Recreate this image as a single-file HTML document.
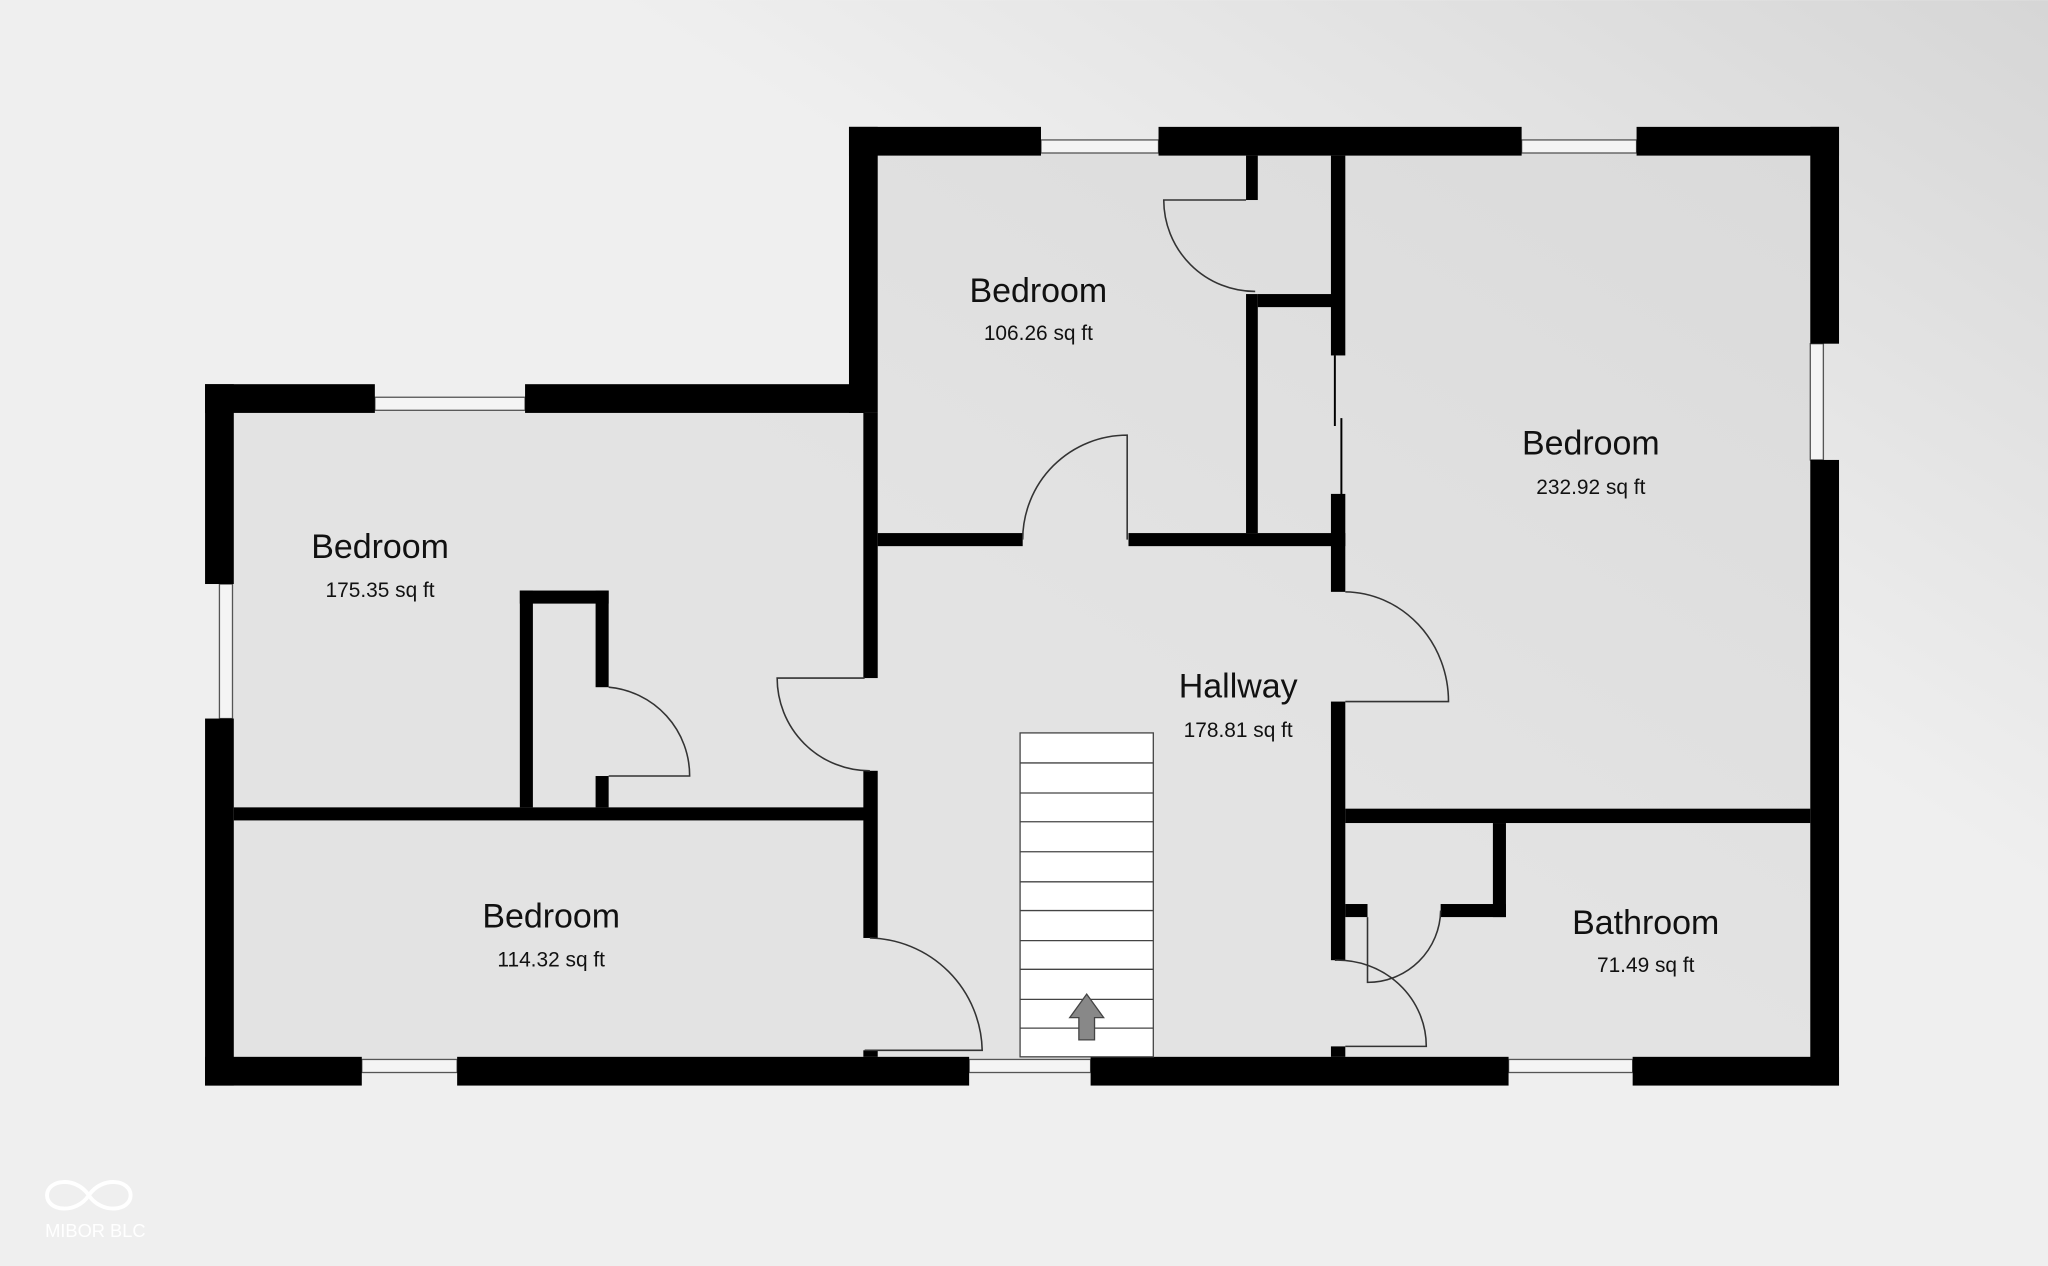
<!DOCTYPE html>
<html><head><meta charset="utf-8"><style>
html,body{margin:0;padding:0;width:2048px;height:1266px;overflow:hidden;background:#efefef}
svg{display:block}
text{font-family:"Liberation Sans",sans-serif;fill:#111;text-anchor:middle}
.t{font-size:26px}.s{font-size:16px}
.d{fill:none;stroke:#333;stroke-width:1.2}
.w{fill:#f4f4f4;stroke:#555;stroke-width:1}
</style></head><body>
<svg width="2048" height="1266" viewBox="0 0 1568 969" xmlns="http://www.w3.org/2000/svg">
<defs><linearGradient id="bg" x1="0" y1="1" x2="1" y2="0"><stop offset="0.65" stop-color="#efefef"/><stop offset="1" stop-color="#d6d6d6"/></linearGradient>
<linearGradient id="fl" x1="0" y1="1" x2="1" y2="0"><stop offset="0.5" stop-color="#e3e3e3"/><stop offset="1" stop-color="#dadada"/></linearGradient></defs>
<rect width="1568" height="969" fill="url(#bg)"/>
<polygon points="168,305 660,305 660,108 1397,108 1397,820 168,820" fill="url(#fl)"/>
<g class="w">
<rect x="287" y="304" width="115" height="10"/><rect x="797" y="107" width="90" height="10"/><rect x="1165" y="107" width="88" height="10"/>
<rect x="1386" y="263" width="10" height="89"/><rect x="168" y="447" width="10" height="103"/>
<rect x="277" y="811" width="73" height="10"/><rect x="742" y="811" width="93" height="10"/><rect x="1155" y="811" width="95" height="10"/>
</g>
<g fill="#000">
<rect x="157" y="294" width="130" height="22"/><rect x="402" y="294" width="260" height="22"/>
<rect x="157" y="294" width="22" height="153"/><rect x="157" y="550" width="22" height="281"/>
<rect x="650" y="97" width="22" height="219"/>
<rect x="650" y="97" width="147" height="22"/><rect x="887" y="97" width="278" height="22"/><rect x="1253" y="97" width="155" height="22"/>
<rect x="1386" y="97" width="22" height="166"/><rect x="1386" y="352" width="22" height="479"/>
<rect x="157" y="809" width="120" height="22"/><rect x="350" y="809" width="392" height="22"/><rect x="835" y="809" width="320" height="22"/><rect x="1250" y="809" width="158" height="22"/>
<rect x="661" y="316" width="11" height="203"/><rect x="661" y="590" width="11" height="128"/><rect x="661" y="804" width="11" height="5"/>
<rect x="672" y="408" width="111" height="10"/><rect x="864" y="408" width="166" height="10"/>
<rect x="954" y="119" width="9" height="34"/><rect x="954" y="225" width="9" height="183"/><rect x="963" y="225" width="57" height="10"/>
<rect x="1019" y="119" width="11" height="153"/><rect x="1019" y="378" width="11" height="75"/>
<rect x="1019" y="537" width="11" height="198"/><rect x="1019" y="801" width="11" height="8"/>
<rect x="1030" y="619" width="356" height="11"/>
<rect x="1143" y="630" width="10" height="72"/><rect x="1103" y="692" width="50" height="10"/><rect x="1030" y="692" width="17" height="10"/>
<rect x="179" y="618" width="483" height="10"/>
<rect x="398" y="452" width="10" height="166"/><rect x="398" y="452" width="68" height="10"/>
<rect x="456" y="452" width="10" height="74"/><rect x="456" y="594" width="10" height="24"/>
</g>
<line x1="1022" y1="272" x2="1022" y2="326" stroke="#000" stroke-width="1.5"/>
<line x1="1027" y1="320" x2="1027" y2="380" stroke="#000" stroke-width="1.5"/>
<path class="d" d="M863,413 L863,333 A80,80 0 0 0 783,413"/>
<path class="d" d="M954,153 L891,153 A70,70 0 0 0 961,223"/>
<path class="d" d="M662,519 L595,519 A71,71 0 0 0 666,590"/>
<path class="d" d="M662,804 L752,804 A88,88 0 0 0 666,718"/>
<path class="d" d="M466,526 A68,68 0 0 1 528,594 L466,594"/>
<path class="d" d="M1030,453 A80,84 0 0 1 1109,537 L1030,537"/>
<path class="d" d="M1047,702 L1047,752 A56,56 0 0 0 1103,697"/>
<path class="d" d="M1022,735 A68,66 0 0 1 1092,801 L1030,801"/>
<rect x="781" y="561" width="102" height="248" fill="#fff" stroke="#444" stroke-width="1"/>
<g stroke="#444" stroke-width="1">
<line x1="781" y1="584" x2="883" y2="584"/><line x1="781" y1="607" x2="883" y2="607"/><line x1="781" y1="629" x2="883" y2="629"/>
<line x1="781" y1="652" x2="883" y2="652"/><line x1="781" y1="675" x2="883" y2="675"/><line x1="781" y1="697" x2="883" y2="697"/>
<line x1="781" y1="720" x2="883" y2="720"/><line x1="781" y1="742" x2="883" y2="742"/><line x1="781" y1="765" x2="883" y2="765"/><line x1="781" y1="787" x2="883" y2="787"/>
</g>
<polygon points="832,761 845,779 838,779 838,796 826,796 826,779 819,779" fill="#888" stroke="#444"/>
<text class="t" x="795" y="231">Bedroom</text><text class="s" x="795" y="260">106.26 sq ft</text>
<text class="t" x="1218" y="348">Bedroom</text><text class="s" x="1218" y="378">232.92 sq ft</text>
<text class="t" x="291" y="427">Bedroom</text><text class="s" x="291" y="457">175.35 sq ft</text>
<text class="t" x="948" y="534">Hallway</text><text class="s" x="948" y="564">178.81 sq ft</text>
<text class="t" x="422" y="710">Bedroom</text><text class="s" x="422" y="740">114.32 sq ft</text>
<text class="t" x="1260" y="715">Bathroom</text><text class="s" x="1260" y="744">71.49 sq ft</text>
<path d="M68,915 C58,900 36,903 36,915 C36,927 58,930 68,915 C78,900 100,903 100,915 C100,927 78,930 68,915Z" fill="none" stroke="#fff" stroke-width="3"/>
<text x="73" y="947" style="font-size:14px;fill:#fff">MIBOR BLC</text>
</svg>
</body></html>
